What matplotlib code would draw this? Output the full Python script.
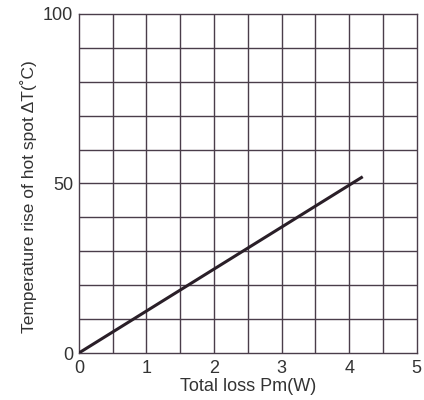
import matplotlib
matplotlib.use("Agg")
from matplotlib import pyplot as plt
import numpy as np

# data
loss_w = [0.0, 4.2]
temp_rise = [0.0, 52.0]
x_ticks = [0, 1, 2, 3, 4, 5]
y_ticks = [0, 50, 100]

plt.rcParams['font.family'] = ['Liberation Sans', 'DejaVu Sans']

fig = plt.figure(figsize=(4.24, 4.0), dpi=100)
ax = fig.add_axes([0.186, 0.1175, 0.797, 0.8475])

grid_col = '#4a3d4a'
ax.set_xlim(0, 5)
ax.set_ylim(0, 100)
for gx in np.arange(0.5, 5, 0.5):
    ax.axvline(gx, color=grid_col, lw=1.0, zorder=1)
for gy in np.arange(10, 100, 10):
    ax.axhline(gy, color=grid_col, lw=1.0, zorder=1)

ax.plot(loss_w, temp_rise, color='#2a1f28', lw=2.2, zorder=3, solid_capstyle='butt')

ax.set_xticks(x_ticks)
ax.set_yticks(y_ticks)
ax.tick_params(length=0, labelsize=13, colors='#333333')
ax.tick_params(axis='x', pad=5)
ax.tick_params(axis='y', pad=4)
for s in ax.spines.values():
    s.set_color(grid_col)
    s.set_linewidth(1.0)

ax.set_xlabel('Total loss Pm(W)', fontsize=13, color='#333333', labelpad=1)
ax.set_ylabel('Temperature rise of hot spot \u0394T(\u02daC)', fontsize=12.5, color='#333333')
ax.yaxis.set_label_coords(-0.124, 0.46)

fig.savefig('out.png', dpi=100)
